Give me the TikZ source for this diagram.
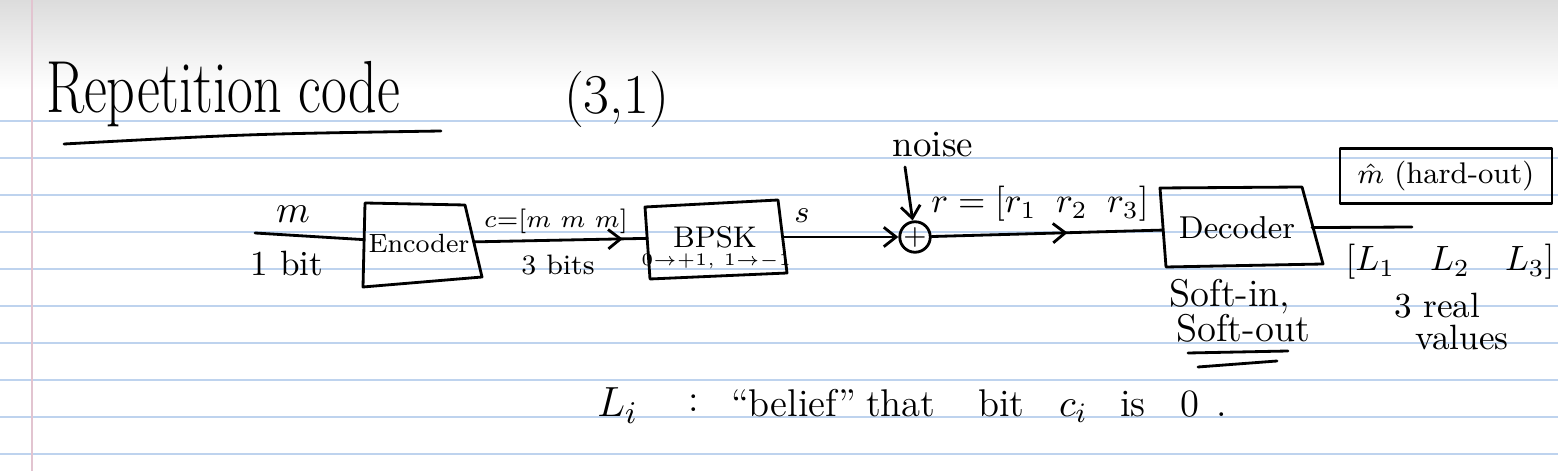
\documentclass[tikz,border=0pt]{standalone}
\usepackage{amsmath}
\usepackage{graphicx}
\usetikzlibrary{arrows.meta,decorations.markings}
\definecolor{ruled}{RGB}{190,211,238}
\definecolor{marginline}{RGB}{226,196,208}
\definecolor{topgray}{RGB}{220,220,220}
\tikzset{
  ink/.style={line width=0.8pt, black, line cap=round, line join=round},
  barb/.style={-{Straight Barb[length=3.5pt,width=5.5pt]}},
  midarrow/.style={postaction={decorate},decoration={markings,mark=at position #1 with {\arrow[line width=0.8pt]{Straight Barb[length=3.5pt,width=5.5pt]}}}},
  lbl/.style={inner sep=0pt, outer sep=0pt},
  blk/.style={draw=none, inner sep=0pt, outer sep=0pt},
  fs/.style={font=\fontsize{#1}{#1}\selectfont},
}
\begin{document}
\begin{tikzpicture}[x=0.1mm,y=-0.1mm]
\useasboundingbox (0,0) rectangle (1558,471);
% paper
\fill[white] (0,0) rectangle (1558,471);
\shade[top color=topgray, bottom color=white] (0,0) rectangle (1558,90);
\foreach \y in {121,158,195,232,269,306,343,380,417,454}
  \draw[ruled, line width=0.6pt] (0,\y) -- (1558,\y);
\draw[marginline, line width=0.8pt] (32,0) -- (32,471);

% title
\node[lbl, anchor=base west] (title) at (46,113)
  {\scalebox{0.76}[1]{\fontsize{21}{24}\selectfont Repetition code}};
\draw[ink] (64,144) .. controls (250,134) .. (441,131);
\node[lbl, anchor=base west, fs=16] (params) at (564,114) {(3,1)};

% input
\coordinate (in) at (255,233);
\node[lbl, fs=11] (mlab) at (293,214) {$m$};
\node[lbl, fs=10] (onebit) at (287,264) {1 bit};

% encoder
\draw[ink] (365,203) -- (465,205) -- (482,277) -- (363,287) -- cycle;
\node[blk, minimum width=11mm, minimum height=7mm, fs=7.5] (enc) at (419,243) {Encoder};

% BPSK
\draw[ink] (645,207) -- (778,200) -- (787,273) -- (650,279) -- cycle;
\node[blk, minimum width=13.6mm, minimum height=7mm, fs=8.5] (bpsk) at (715,237) {BPSK};
\node[lbl, fs=5] (map) at (716,261) {$0{\to}{+1},\,1{\to}{-1}$};

\node[lbl, fs=7.5] (clab) at (556,221) {$c{=}[m\ m\ m]$};
\node[lbl, fs=8] (threebits) at (558,265) {3 bits};

% adder
\node[draw, ink, circle, minimum size=3mm, inner sep=0pt, fs=8] (add) at (915,237) {$+$};
\node[lbl, fs=10.5] (noise) at (933,145) {noise};
\coordinate (nz) at (905,167);
\node[lbl, fs=9] (slab) at (802,216) {$s$};
\node[lbl, fs=10] (rlab) at (1040,204) {$r=[r_1\;\; r_2\;\; r_3]$};

% decoder
\draw[ink] (1160,188) -- (1302,187) -- (1323,264) -- (1166,267) -- cycle;
\node[blk, minimum width=15mm, minimum height=7mm, fs=9] (dec) at (1237,228) {Decoder};
\node[lbl, fs=11] (softin) at (1230,297) {Soft-in,};
\node[lbl, fs=11] (softout) at (1243,328) {Soft-out};
\draw[ink] (1188,353) -- (1288,351);
\draw[ink] (1198,367) -- (1277,361);

% outputs
\coordinate (out) at (1412,227);
\node[draw, ink, minimum width=21.2mm, minimum height=5.5mm, inner sep=0pt, fs=8.5] (hard) at (1446,176) {$\hat{m}$ (hard-out)};
\node[lbl, fs=10] (llr) at (1450,262) {$[L_1\quad L_2\quad L_3]$};
\node[lbl, fs=10] (real) at (1437,306) {3 real};
\node[lbl, fs=10] (values) at (1462,338) {values};

% connectors
\draw[ink] (in) -- (enc);
\draw[ink, midarrow=0.86] (enc) -- (bpsk);
\draw[ink, barb] (bpsk) -- (add);
\draw[ink, barb] (nz) -- (add);
\draw[ink, midarrow=0.59] (add) -- (dec);
\draw[ink] (dec) -- (out);

% bottom line
\node[lbl, anchor=base west, fs=13] (li) at (597,417) {$L_i$};
\node[lbl, anchor=base west, fs=11] (colon) at (688,412) {:};
\node[lbl, anchor=base west, fs=11] (belief) at (731,417) {``belief''};
\node[lbl, anchor=base west, fs=11] (that) at (866,417) {that};
\node[lbl, anchor=base west, fs=11] (bit) at (978,417) {bit};
\node[lbl, anchor=base west, fs=11] (ci) at (1059,417) {$c_i$};
\node[lbl, anchor=base west, fs=11] (is) at (1120,417) {is};
\node[lbl, anchor=base west, fs=11] (zero) at (1180,417) {0\kern 5pt.};
\end{tikzpicture}
\end{document}
